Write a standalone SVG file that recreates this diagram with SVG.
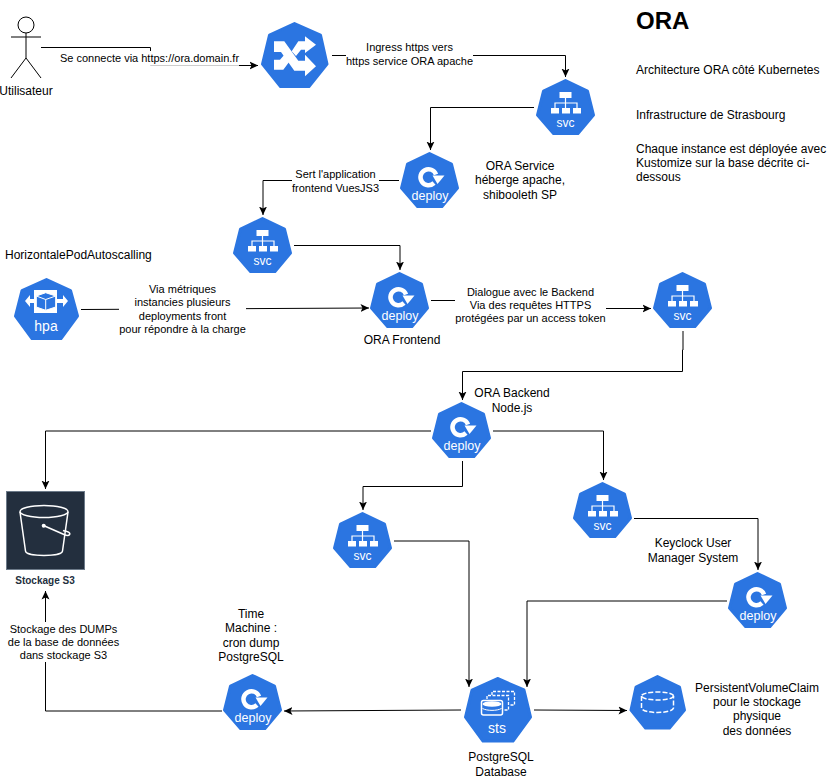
<svg xmlns="http://www.w3.org/2000/svg" width="828" height="780" viewBox="0 0 828 780">
<style>
text{font-family:"Liberation Sans",Arial,sans-serif;fill:#000}
.l{font-size:11px;text-anchor:middle}
.n{font-size:12px;text-anchor:middle}
.s{font-size:12px}
.c{fill:none;stroke:#000;stroke-width:1;marker-end:url(#a)}
.w{fill:#fff;stroke:none}
.k{fill:none;stroke:#000;stroke-width:1}
.nt{fill:#fff;font-size:12px;text-anchor:middle}
.dt{fill:#fff;font-size:12.500px;text-anchor:middle}
.bt{fill:#fff;font-size:14px;text-anchor:middle}
.hept{fill:#2b75e1;stroke:#2b75e1;stroke-width:3;stroke-linejoin:round}
</style>
<defs>
<marker id="a" markerUnits="userSpaceOnUse" markerWidth="10" markerHeight="10" refX="8.500" refY="4.500" orient="auto"><path d="M0 0.500L8.500 4.500L0 8.500L2 4.500Z" fill="#000"/></marker>
<polygon id="h" class="hept" points="28.500,1.500 50.500,12 56.500,36 41,54.500 16.500,54.500 0.500,36 6.500,12"/>
<g id="svcg">
<use href="#h"/>
<path fill="#fff" d="M22.500 13h12v6h-12zM14 29h8v5.500h-8zM25 29h8v5.500h-8zM36 29h8v5.500h-8z"/>
<path fill="none" stroke="#fff" stroke-width="1.200" d="M28.500 19v10M18 29v-5h22v5"/>
</g>
<g id="depg">
<use href="#h"/>
<path fill="none" stroke="#fff" stroke-width="4.500" d="M33 31A8 8 0 1 1 35 22.500"/>
<path fill="#fff" d="M31.500 23.500H43.500L36.500 32Z"/>
</g>
</defs>

<g id="connectors">
<path class="c" d="M41 47.500H150.500V65.500H258"/>
<path class="c" d="M332 55.500H565.500V77"/>
<path class="c" d="M534 107.500H430.500V150"/>
<path class="c" d="M399 180.500H263V215"/>
<path class="c" d="M294 245.500H400V270"/>
<path class="c" d="M81 309.500L369 308"/>
<path class="c" d="M431 300.500H541V308.500H651"/>
<path class="c" d="M683 331V350H682.500V371.500H462.500V400"/>
<path class="c" d="M431 431H45.500V489"/>
<path class="c" d="M493 431H603.500V480"/>
<path class="c" d="M462.500 461V486.500H363V510"/>
<path class="c" d="M634 518.500H758V570"/>
<path class="c" d="M394 541H469V687"/>
<path class="c" d="M727 601H527V687"/>
<path class="c" d="M461 710L284 711"/>
<path class="c" d="M534 710L627 710.500"/>
<path class="c" d="M222 711H45.500V591"/>
<rect class="w" x="60" y="51" width="179" height="14.800"/>
<text class="l" x="149.500" y="62">Se connecte via https://ora.domain.fr</text>
<rect class="w" x="346" y="41" width="127" height="27"/>
<text class="l" x="409.500" y="51">Ingress https vers</text>
<text class="l" x="409.500" y="65">https service ORA apache</text>
<rect class="w" x="292" y="167" width="87" height="27"/>
<text class="l" x="335.500" y="178">Sert l'application</text>
<text class="l" x="335.500" y="192">frontend VuesJS3</text>
<rect class="w" x="119" y="282" width="127" height="54"/>
<text class="l" x="182.500" y="293">Via métriques</text>
<text class="l" x="182.500" y="306">instancies plusieurs</text>
<text class="l" x="182.500" y="320">deployments front</text>
<text class="l" x="182.500" y="333">pour répondre à la charge</text>
<rect class="w" x="455" y="285" width="151" height="40"/>
<text class="l" x="530.500" y="296">Dialogue avec le Backend</text>
<text class="l" x="530.500" y="309">Via des requêtes HTTPS</text>
<text class="l" x="530.500" y="322">protégées par un access token</text>
<rect class="w" x="8" y="622" width="111" height="40"/>
<text class="l" x="63.500" y="633">Stockage des DUMPs</text>
<text class="l" x="63.500" y="646">de la base de données</text>
<text class="l" x="63.500" y="659">dans stockage S3</text>
</g>

<g id="actor">
<g class="k">
<circle cx="26" cy="25" r="8" fill="#fff"/>
<path d="M26 33V58M11 37H41M11 78L26 58L41 78"/>
</g>
<text class="n" x="26" y="95">Utilisateur</text>
</g>

<g id="ingress">
<polygon class="hept" points="294.500,23.500 320.500,35 327,64 309,86.500 280.500,86.500 262.500,64 269.500,35"/>
<path fill="#fff" d="M274 41.300H284.300L298.300 60.700H305V54.700L316 66.300L305 76.300V70.700H294.300L281 52H274Z"/>
<path fill="#fff" d="M274 69.700V59.700H280L285 54L290 60.700L283.300 69.700Z"/>
<path fill="#fff" d="M291.700 51.300L298.300 41.300H305V36.300L316 44.700L305 53V49.700H301L296 56Z"/>
</g>

<g id="svc-apache"><use href="#svcg" x="537" y="79"/><text class="nt" x="565.500" y="127">svc</text></g>
<g id="deploy-service"><use href="#depg" x="401" y="152"/><text class="dt" x="430" y="200">deploy</text></g>
<g id="svc-frontend"><use href="#svcg" x="234" y="217"/><text class="nt" x="262.500" y="265">svc</text></g>
<g id="deploy-frontend"><use href="#depg" x="371" y="272"/><text class="dt" x="400" y="320">deploy</text></g>
<g id="svc-backend"><use href="#svcg" x="654" y="272"/><text class="nt" x="682.500" y="320">svc</text></g>
<g id="deploy-backend"><use href="#depg" x="433" y="402"/><text class="dt" x="462" y="450">deploy</text></g>
<g id="svc-keycloak"><use href="#svcg" x="574" y="482"/><text class="nt" x="602.500" y="530">svc</text></g>
<g id="svc-postgres"><use href="#svcg" x="334" y="512"/><text class="nt" x="362.500" y="560">svc</text></g>
<g id="deploy-keycloak"><use href="#depg" x="729" y="572"/><text class="dt" x="758" y="620">deploy</text></g>
<g id="deploy-timemachine"><use href="#depg" x="224" y="674"/><text class="dt" x="253" y="722">deploy</text></g>

<g id="hpa">
<polygon class="hept" points="46.500,279.500 70.500,290.500 77.500,316 61,338.500 32,338.500 15.500,316 22,290.500"/>
<rect x="34" y="290" width="23" height="23" fill="#fff"/>
<path fill="#fff" d="M34 299H30V295L25 301L30 307V303H34ZM57 299H63V295L68 301L63 307V303H57Z"/>
<path fill="#2b75e1" stroke="#fff" stroke-width="1" d="M45.700 292.700L55.700 296V307L45.700 310.300L36.300 307V296Z"/>
<path fill="none" stroke="#fff" stroke-width="1" d="M36.300 296L45.700 299.500L55.700 296M45.700 299.500V310.300"/>
<text class="bt" x="46" y="331">hpa</text>
</g>

<g id="s3">
<rect x="6.500" y="491.500" width="78" height="78" fill="#232f3e" stroke="#6c7a89"/>
<g fill="none" stroke="#fff" stroke-width="1.500">
<ellipse cx="44" cy="511.500" rx="24" ry="6"/>
<path d="M20 512L25.500 551C26 557 62 557 62.500 551L68 512"/>
<path d="M44 525.700L64 534.500C70 537 72 533 67 531.500C65.500 531 64 531 63 530.500"/>
</g>
<circle cx="43.700" cy="525.700" r="2" fill="#fff"/>
<text x="45" y="584" style="font-size:10px;font-weight:bold;text-anchor:middle;fill:#232f3e">Stockage S3</text>
</g>

<g id="sts">
<polygon class="hept" points="497.500,678.500 524,690 530.500,717 513,741 483,741 465.500,717 472,690"/>
<g fill="none" stroke="#fff" stroke-width="1.300" stroke-dasharray="3 1.500">
<path d="M492 695V691.500H514.500V705H510"/>
<path d="M487 699V695.500H508.500V710H504"/>
</g>
<rect x="481.500" y="700.500" width="21" height="14.500" rx="2" fill="#2b75e1" stroke="#fff" stroke-width="1.500"/>
<ellipse cx="492" cy="704" rx="9.500" ry="2.800" fill="#fff"/>
<path d="M482.500 708.500C487 711 497 711 501.500 708.500" fill="none" stroke="#fff"/>
<text class="bt" x="497" y="733">sts</text>
</g>

<g id="pvc">
<polygon class="hept" points="657.500,676.500 679.500,687 684.500,710 669.500,728 645.500,728 631,710 636,687"/>
<g fill="none" stroke="#fff" stroke-width="1.500" stroke-dasharray="5 2">
<ellipse cx="657.500" cy="696" rx="16" ry="4"/>
<path d="M641.500 696V708C643 714 672 714 673.500 708V696"/>
</g>
</g>

<g id="labels">
<text x="636" y="29" style="font-size:24px;font-weight:bold">ORA</text>
<text class="s" x="636" y="74">Architecture ORA côté Kubernetes</text>
<text class="s" x="636" y="119">Infrastructure de Strasbourg</text>
<text class="s" x="636" y="153">Chaque instance est déployée avec</text>
<text class="s" x="636" y="167">Kustomize sur la base décrite ci-</text>
<text class="s" x="636" y="181">dessous</text>
<text class="n" x="520" y="170">ORA Service</text>
<text class="n" x="520" y="184">héberge apache,</text>
<text class="n" x="520" y="199">shibooleth SP</text>
<text class="s" x="5" y="259">HorizontalePodAutoscalling</text>
<text class="n" x="402" y="344">ORA Frontend</text>
<text class="n" x="512" y="397">ORA Backend</text>
<text class="n" x="512" y="412">Node.js</text>
<text class="n" x="693" y="547">Keyclock User</text>
<text class="n" x="693" y="562">Manager System</text>
<text class="n" x="251" y="618">Time</text>
<text class="n" x="251" y="632">Machine :</text>
<text class="n" x="251" y="647">cron dump</text>
<text class="n" x="251" y="661">PostgreSQL</text>
<text class="n" x="501" y="761">PostgreSQL</text>
<text class="n" x="501" y="776">Database</text>
<text class="n" x="757" y="692">PersistentVolumeClaim</text>
<text class="n" x="757" y="706">pour le stockage</text>
<text class="n" x="757" y="720">physique</text>
<text class="n" x="757" y="735">des données</text>
</g>
</svg>
